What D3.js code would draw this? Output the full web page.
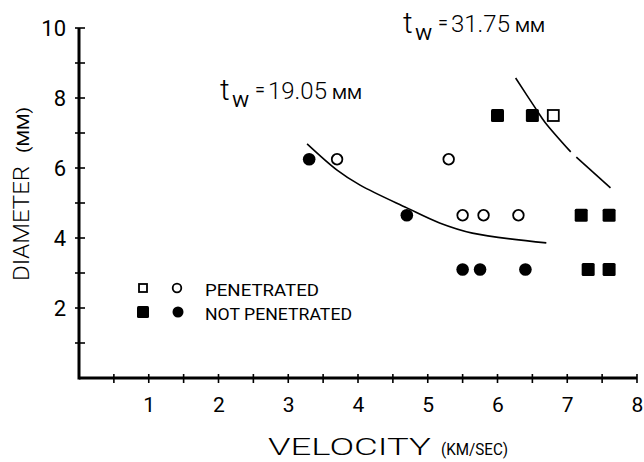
<!DOCTYPE html>
<html>
<head>
<meta charset="utf-8">
<script src="https://cdn.jsdelivr.net/npm/d3@7"></script>
<style>
  body { margin: 0; background: #fff; }
  svg text { font-family: Roboto, "Liberation Sans", sans-serif; fill: #000; }
</style>
</head>
<body>
<svg id="chart" width="644" height="462"></svg>
<script>
// penetrated (open) and not penetrated (filled) shots: [velocity km/s, diameter mm]
const openCircles = [[3.7, 6.25], [5.3, 6.25], [5.5, 4.65], [5.8, 4.65], [6.3, 4.65]];
const filledCircles = [[3.3, 6.25], [4.7, 4.65], [5.5, 3.1], [5.75, 3.1], [6.4, 3.1]];
const openSquares = [[6.8, 7.5]];
const filledSquares = [[6.0, 7.5], [6.5, 7.5], [7.2, 4.65], [7.6, 4.65], [7.3, 3.1], [7.6, 3.1]];

// hand drawn ballistic limit curves
const curve19 = [[3.27, 6.69], [3.7, 5.94], [4.03, 5.51], [4.7, 4.86], [5.17, 4.43], [5.64, 4.14], [6.7, 3.86]];
const curve31a = [[6.26, 8.57], [6.56, 7.66], [6.68, 7.31], [7.05, 6.46]];
const curve31b = [[7.13, 6.31], [7.62, 5.43]];

const xMajor = [1, 2, 3, 4, 5, 6, 7, 8];
const xMinor = [0.5, 1.5, 2.5, 3.5, 4.5, 5.5, 6.5, 7.5];
const yMajor = [2, 4, 6, 8, 10];
const yMinor = [1, 3, 5, 7, 9];

const svg = d3.select('#chart');
const x = d3.scaleLinear().domain([0, 8]).range([79, 637]);
const y = d3.scaleLinear().domain([0, 10]).range([378, 28]);

// stretched lettering helper
function wide(sel, len, weight = 300) {
  return sel.attr('textLength', len).attr('lengthAdjust', 'spacingAndGlyphs').style('font-weight', weight);
}

// axes
const xAxis = svg.append('g').attr('transform', `translate(0,${y(0)})`)
  .call(d3.axisBottom(x).tickValues(xMajor).tickSize(0).tickPadding(19).tickFormat(d3.format('d')));
xAxis.select('.domain').remove();
xAxis.selectAll('text').attr('font-size', 21).style('font-weight', 400);

const yAxis = svg.append('g').attr('transform', `translate(${x(0)},0)`)
  .call(d3.axisLeft(y).tickValues(yMajor).tickSize(0).tickPadding(13).tickFormat(d3.format('d')));
yAxis.select('.domain').remove();
yAxis.selectAll('text').attr('font-size', 22).style('font-weight', 400);
svg.selectAll('g').attr('font-family', null);

svg.append('line').attr('x1', x(0)).attr('x2', x(8)).attr('y1', y(0)).attr('y2', y(0))
  .attr('stroke', '#000').attr('stroke-width', 3);
svg.append('line').attr('x1', x(0)).attr('x2', x(0)).attr('y1', y(0) + 1.5).attr('y2', y(10))
  .attr('stroke', '#000').attr('stroke-width', 3);

svg.selectAll('.xtick').data(xMajor.concat(xMinor)).join('line').attr('class', 'xtick')
  .attr('x1', d => x(d)).attr('x2', d => x(d)).attr('y1', y(0) - 4).attr('y2', y(0) + 5)
  .attr('stroke', '#000').attr('stroke-width', 1.6);
svg.selectAll('.ytick').data(yMajor.concat(yMinor)).join('line').attr('class', 'ytick')
  .attr('y1', d => y(d)).attr('y2', d => y(d)).attr('x1', x(0) - 4).attr('x2', x(0) + 6)
  .attr('stroke', '#000').attr('stroke-width', 1.6);

// axis titles
wide(svg.append('text').attr('x', 268).attr('y', 455).attr('font-size', 23), 163).text('VELOCITY');
wide(svg.append('text').attr('x', 441).attr('y', 455).attr('font-size', 17), 67, 400).text('(KM/SEC)');

wide(svg.append('text').attr('transform', 'translate(29,281) rotate(-90)').attr('font-size', 22), 115).text('DIAMETER');
wide(svg.append('text').attr('transform', 'translate(29,153) rotate(-90)').attr('font-size', 17), 46, 400).text('(MM)');

// curves
const line = d3.line().x(d => x(d[0])).y(d => y(d[1])).curve(d3.curveCatmullRom);
[curve19, curve31a, curve31b].forEach(c => {
  svg.append('path').attr('d', line(c)).attr('fill', 'none').attr('stroke', '#000').attr('stroke-width', 1.6);
});

// markers
svg.selectAll('.oc').data(openCircles).join('circle').attr('class', 'oc')
  .attr('cx', d => x(d[0])).attr('cy', d => y(d[1])).attr('r', 5.3)
  .attr('fill', '#fff').attr('stroke', '#000').attr('stroke-width', 1.8);
svg.selectAll('.fc').data(filledCircles).join('circle').attr('class', 'fc')
  .attr('cx', d => x(d[0])).attr('cy', d => y(d[1])).attr('r', 6.3).attr('fill', '#000');
svg.selectAll('.os').data(openSquares).join('rect').attr('class', 'os')
  .attr('x', d => x(d[0]) - 5.5).attr('y', d => y(d[1]) - 5.5).attr('width', 11).attr('height', 11)
  .attr('fill', '#fff').attr('stroke', '#000').attr('stroke-width', 1.8);
svg.selectAll('.fs').data(filledSquares).join('rect').attr('class', 'fs')
  .attr('x', d => x(d[0]) - 6.5).attr('y', d => y(d[1]) - 6.5).attr('width', 13).attr('height', 13)
  .attr('rx', 1.5).attr('fill', '#000');

// legend
const lg = svg.append('g');
lg.append('rect').attr('x', 139).attr('y', 284).attr('width', 8).attr('height', 8)
  .attr('fill', '#fff').attr('stroke', '#000').attr('stroke-width', 1.8);
lg.append('circle').attr('cx', 177).attr('cy', 288).attr('r', 4.3)
  .attr('fill', '#fff').attr('stroke', '#000').attr('stroke-width', 1.8);
wide(lg.append('text').attr('x', 205).attr('y', 296).attr('font-size', 17), 114, 400).text('PENETRATED');
lg.append('rect').attr('x', 137).attr('y', 306).attr('width', 12).attr('height', 12).attr('rx', 1.5).attr('fill', '#000');
lg.append('circle').attr('cx', 178).attr('cy', 312).attr('r', 5.5).attr('fill', '#000');
wide(lg.append('text').attr('x', 205).attr('y', 320).attr('font-size', 17), 147, 400).text('NOT PENETRATED');

// thickness labels
function twLabel(px, py, val) {
  const g = svg.append('g').attr('transform', `translate(${px},${py})`);
  g.append('text').attr('x', 0).attr('y', 0).attr('font-size', 30).style('font-weight', 300).text('t');
  wide(g.append('text').attr('x', 12).attr('y', 7).attr('font-size', 16), 17, 400).text('W');
  g.append('text').attr('x', 35).attr('y', -4).attr('font-size', 18).style('font-weight', 400).text('=');
  wide(g.append('text').attr('x', 48).attr('y', -1).attr('font-size', 23), 59).text(val);
  wide(g.append('text').attr('x', 112).attr('y', -1).attr('font-size', 14), 30, 400).text('MM');
}
twLabel(220, 100, '19.05');
twLabel(403, 33, '31.75');
</script>
</body>
</html>
